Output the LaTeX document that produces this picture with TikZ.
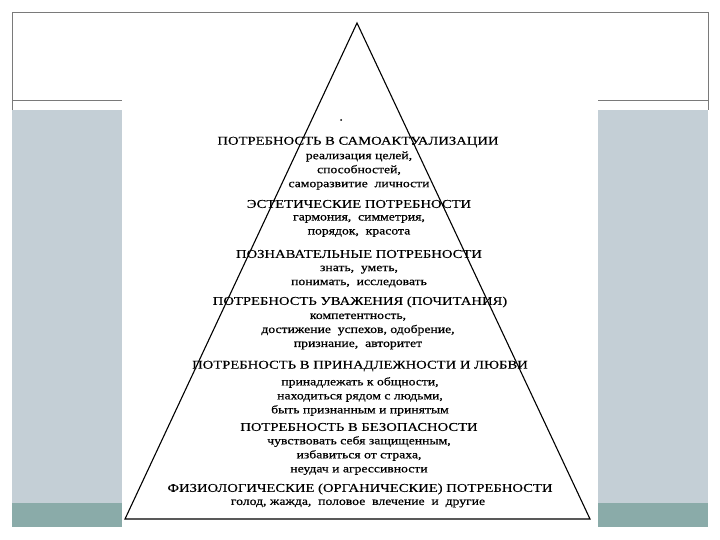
\documentclass[tikz,border=0pt]{standalone}
\usepackage{fontspec}
\setmainfont{Liberation Serif}
\newfontfamily\headfont[FakeStretch=1.22,FakeBold=0.3]{Liberation Serif}
\newfontfamily\descfont[FakeStretch=1.2,FakeBold=0.6]{Liberation Serif}
\definecolor{panellight}{HTML}{C4CFD6}
\definecolor{paneldark}{HTML}{8AABA9}
\definecolor{framegrey}{HTML}{7A7A7A}
\tikzset{
  head/.style={inner sep=0pt, font=\headfont\fontsize{12}{14}\selectfont},
  desc/.style={inner sep=0pt, align=center, font=\descfont\fontsize{11.4}{14}\selectfont},
  frameline/.style={draw=framegrey, line width=0.9pt},
  pyr/.style={draw=black, line width=1.1pt, line join=miter}
}
\begin{document}
\begin{tikzpicture}[x=1pt,y=-1pt]
\useasboundingbox (0,0) rectangle (720,540);
\fill[white] (0,0) rectangle (720,540);
% side panels
\fill[panellight] (12,110) rectangle (122,503);
\fill[paneldark] (12,503) rectangle (122,527);
\fill[panellight] (598,110) rectangle (708,503);
\fill[paneldark] (598,503) rectangle (708,527);
% frame lines
\draw[frameline] (12,110) -- (12,12) -- (708,12) -- (708,110);
\draw[frameline] (12,100) -- (122,100);
\draw[frameline] (598,100) -- (708,100);
% pyramid
\coordinate (apex) at (357,23);
\coordinate (bl) at (125,519);
\coordinate (br) at (590,519);
\draw[pyr] (apex) -- (bl) -- (br) -- cycle;
\fill (341,120) circle (1pt);
% level 1
\node[head] (h1) at (358,142) {ПОТРЕБНОСТЬ В САМОАКТУАЛИЗАЦИИ};
\node[desc] (d1) at (359,170.5) {реализация целей,\\способностей,\\саморазвитие\ \ личности};
% level 2
\node[head] (h2) at (359,204) {ЭСТЕТИЧЕСКИЕ ПОТРЕБНОСТИ};
\node[desc] (d2) at (359,226) {гармония,\ \ симметрия,\\порядок,\ \ красота};
% level 3
\node[head] (h3) at (359,254) {ПОЗНАВАТЕЛЬНЫЕ ПОТРЕБНОСТИ};
\node[desc] (d3) at (359,276.5) {знать,\ \ уметь,\\понимать,\ \ исследовать};
% level 4
\node[head] (h4) at (360,302) {ПОТРЕБНОСТЬ УВАЖЕНИЯ (ПОЧИТАНИЯ)};
\node[desc] (d4) at (358,331.5) {компетентность,\\достижение\ \ успехов,\ одобрение,\\признание,\ \ авторитет};
% level 5
\node[head] (h5) at (360,366) {ПОТРЕБНОСТЬ В ПРИНАДЛЕЖНОСТИ И ЛЮБВИ};
\node[desc] (d5) at (360,396.5) {принадлежать к общности,\\находиться рядом с людьми,\\быть признанным и принятым};
% level 6
\node[head] (h6) at (359,427) {ПОТРЕБНОСТЬ В БЕЗОПАСНОСТИ};
\node[desc] (d6) at (359,455.5) {чувствовать себя защищенным,\\избавиться от страха,\\неудач и агрессивности};
% level 7
\node[head] (h7) at (360,489) {ФИЗИОЛОГИЧЕСКИЕ (ОРГАНИЧЕСКИЕ) ПОТРЕБНОСТИ};
\node[desc] (d7) at (358,503.5) {голод,\ жажда,\ \ половое\ \ влечение\ \ и\ \ другие};
\end{tikzpicture}
\end{document}
